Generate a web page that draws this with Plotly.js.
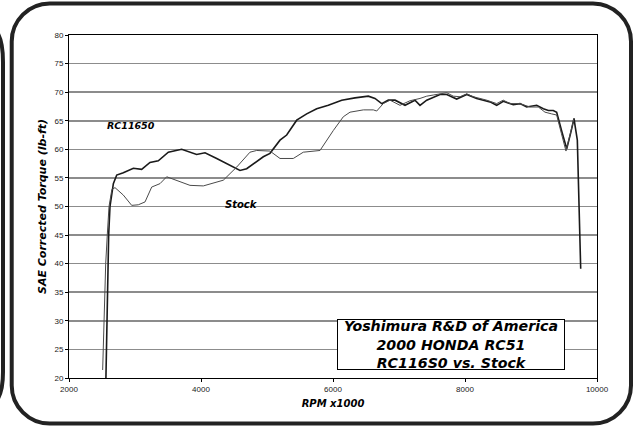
<!DOCTYPE html>
<html>
<head>
<meta charset="utf-8">
<script src="https://cdn.plot.ly/plotly-3.0.1.min.js"></script>
<style>html,body{margin:0;padding:0;background:#fff;}#chart{width:635px;height:430px;}</style>
</head>
<body>
<div id="chart"></div>
<script>
// ---- data (RPM, corrected torque lb-ft) ----
const rcRpm = [2556, 2571, 2586, 2601, 2621, 2672, 2723, 2823, 2975, 3101, 3227, 3353, 3505, 3707, 3934, 4061, 4238, 4439, 4591, 4692, 4844, 4944, 5045, 5197, 5298, 5450, 5601, 5753, 5929, 6132, 6333, 6535, 6636, 6738, 6838, 6940, 7091, 7242, 7318, 7420, 7621, 7723, 7874, 8026, 8177, 8379, 8480, 8580, 8732, 8833, 8934, 9086, 9187, 9263, 9338, 9389, 9470, 9541, 9600, 9652, 9667, 9702, 9753];
const rcTorque = [18, 30, 40, 45, 50, 54.0, 55.5, 55.9, 56.7, 56.5, 57.7, 58.0, 59.5, 60.0, 59.1, 59.4, 58.4, 57.2, 56.3, 56.6, 57.8, 58.7, 59.3, 61.6, 62.5, 65.1, 66.2, 67.1, 67.7, 68.6, 69.0, 69.3, 68.9, 68.0, 68.6, 68.6, 67.7, 68.6, 67.7, 68.6, 69.6, 69.6, 68.8, 69.6, 68.9, 68.3, 67.7, 68.4, 67.8, 68.0, 67.4, 67.7, 67.1, 66.8, 66.8, 66.5, 63.0, 60.1, 62.8, 65.4, 64.2, 61.6, 39.1];

const stockRpm = [2510, 2530, 2556, 2580, 2606, 2650, 2697, 2823, 2950, 3050, 3152, 3253, 3379, 3480, 3632, 3833, 4035, 4238, 4338, 4541, 4742, 4844, 5045, 5197, 5398, 5550, 5803, 6005, 6156, 6258, 6460, 6611, 6662, 6762, 6864, 7015, 7167, 7318, 7420, 7520, 7723, 7823, 7924, 8026, 8126, 8329, 8480, 8580, 8682, 8833, 8985, 9111, 9212, 9313, 9389, 9460, 9530, 9590, 9652];
const stockTorque = [21.4, 30, 40, 45, 50, 53.0, 53.3, 52.0, 50.2, 50.3, 50.8, 53.4, 54.0, 55.2, 54.6, 53.7, 53.6, 54.3, 54.6, 56.9, 59.5, 59.8, 59.7, 58.4, 58.4, 59.5, 59.8, 63.3, 65.7, 66.5, 66.9, 66.9, 66.7, 68.0, 68.6, 67.7, 68.5, 68.9, 69.3, 69.5, 69.9, 69.3, 69.2, 69.7, 69.2, 68.6, 68.0, 68.6, 68.0, 68.0, 67.4, 67.4, 66.5, 66.2, 66.0, 62.8, 59.7, 62.5, 65.4];

const seriesNames = ["RC11650", "Stock"];
const xTicks = [2000, 4000, 6000, 8000, 10000];
const xTitle = "RPM x1000";
const yTitle = "SAE Corrected Torque (lb-ft)";
const boxLines = ["Yoshimura R&D of America", "2000 HONDA RC51", "RC116S0 vs. Stock"];
const rcLabelAt = [2939, 64.2];
const stockLabelAt = [4614, 50.4];

// ---- layout geometry ----
const L = 69, T = 35, W = 528, H = 343;
const fx = x => ((x - L) / W).toFixed(4);
const fy = y => ((T + H - y) / H).toFixed(4);
const pt = (x, y) => fx(x) + "," + fy(y);

function roundRect(l, t, r, b, rad) {
  const k = 0.552 * rad;
  return "M" + pt(l + rad, t) + " L" + pt(r - rad, t) +
    " C" + pt(r - rad + k, t) + " " + pt(r, t + rad - k) + " " + pt(r, t + rad) +
    " L" + pt(r, b - rad) +
    " C" + pt(r, b - rad + k) + " " + pt(r - rad + k, b) + " " + pt(r - rad, b) +
    " L" + pt(l + rad, b) +
    " C" + pt(l + rad - k, b) + " " + pt(l, b - rad + k) + " " + pt(l, b - rad) +
    " L" + pt(l, t + rad) +
    " C" + pt(l, t + rad - k) + " " + pt(l + rad - k, t) + " " + pt(l + rad, t) + " Z";
}
const sidePath = "M" + pt(-8, 27) + " Q" + pt(3, 34) + " " + pt(3, 62) +
  " L" + pt(3, 372) + " Q" + pt(3, 398) + " " + pt(-8, 405);

const heavy = {family: "DejaVu Sans", weight: 700, style: "italic", color: "#000"};
const tickFont = {family: "Liberation Sans, Arial, sans-serif", size: 8, color: "#222"};

const traces = [
  {x: rcRpm, y: rcTorque, name: seriesNames[0], type: "scatter", mode: "lines",
   line: {color: "#1a1a1a", width: 1.6}, yaxis: "y"},
  {x: stockRpm, y: stockTorque, name: seriesNames[1], type: "scatter", mode: "lines",
   line: {color: "#4a4a4a", width: 1.0}, yaxis: "y"}
];

const layout = {
  width: 635, height: 430,
  margin: {l: L, r: 635 - L - W, t: T, b: 430 - T - H},
  paper_bgcolor: "#fff", plot_bgcolor: "#fff",
  showlegend: false,
  xaxis: {
    range: [2000, 10000], tickvals: xTicks, ticktext: xTicks.map(String),
    ticks: "outside", ticklen: 3, tickcolor: "#000", tickwidth: 1,
    showgrid: false, zeroline: false,
    showline: true, linecolor: "#000", linewidth: 1, mirror: true,
    tickfont: tickFont,
    title: {text: xTitle, font: Object.assign({size: 10}, heavy), standoff: 7}
  },
  yaxis: {
    range: [20, 80], dtick: 5, tick0: 20,
    ticks: "outside", ticklen: 3, tickcolor: "#000", tickwidth: 1,
    showgrid: true, gridcolor: "#8c8c8c", gridwidth: 1.6, zeroline: false,
    showline: true, linecolor: "#000", linewidth: 1, mirror: true,
    tickfont: tickFont,
    title: {text: yTitle, font: Object.assign({size: 11}, heavy), standoff: 5}
  },
  yaxis2: {
    range: [20, 80], dtick: 10, tick0: 20, overlaying: "y", side: "left",
    showgrid: true, gridcolor: "#000", gridwidth: 1, zeroline: false,
    showticklabels: false, ticks: "", showline: false
  },
  shapes: [
    {type: "path", xref: "paper", yref: "paper", path: roundRect(11.7, 3.5, 631, 423.5, 38),
     line: {color: "#222", width: 4}, fillcolor: "rgba(0,0,0,0)", layer: "above"},
    {type: "path", xref: "paper", yref: "paper", path: sidePath,
     line: {color: "#222", width: 4}, fillcolor: "rgba(0,0,0,0)", layer: "above"}
  ],
  annotations: [
    {x: rcLabelAt[0], y: rcLabelAt[1], xref: "x", yref: "y", text: seriesNames[0],
     showarrow: false, font: Object.assign({size: 9.5}, heavy)},
    {x: stockLabelAt[0], y: stockLabelAt[1], xref: "x", yref: "y", text: seriesNames[1],
     showarrow: false, font: Object.assign({size: 10}, heavy)},
    {x: fx(451.5), y: fy(344), xref: "paper", yref: "paper", xanchor: "center", yanchor: "middle",
     text: boxLines.join("<br>"), showarrow: false, align: "center",
     width: 226, height: 49, bgcolor: "#fff", bordercolor: "#000", borderwidth: 1, borderpad: 0,
     font: Object.assign({size: 14.2}, heavy)}
  ]
};

Plotly.newPlot("chart", traces, layout, {displayModeBar: false, staticPlot: true});
</script>
</body>
</html>
